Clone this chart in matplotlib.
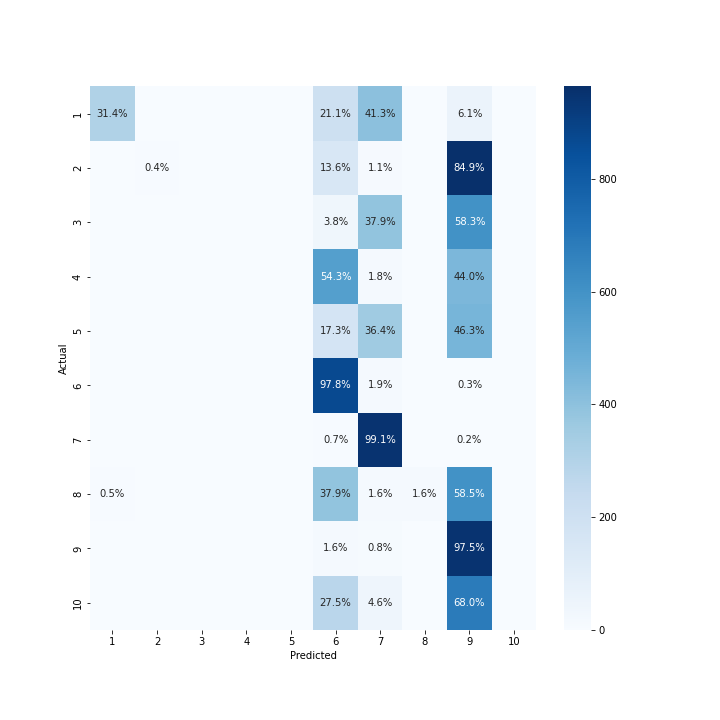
import numpy as np
import matplotlib
matplotlib.use("Agg")
import matplotlib.pyplot as plt
import seaborn as sns

labels = [str(i) for i in range(1, 11)]
# confusion matrix counts (rows = actual, cols = predicted)
row1 = [308, 0, 0, 0, 0, 207, 405, 0, 60, 0]
row2 = [0, 5, 0, 0, 0, 154, 12, 0, 964, 0]
row3 = [0, 0, 0, 0, 0, 39, 391, 0, 602, 0]
row4 = [0, 0, 0, 0, 0, 548, 18, 0, 444, 0]
row5 = [0, 0, 0, 0, 0, 170, 357, 0, 455, 0]
row6 = [0, 0, 0, 0, 0, 872, 17, 0, 3, 0]
row7 = [0, 0, 0, 0, 0, 7, 949, 0, 2, 0]
row8 = [5, 0, 0, 0, 0, 390, 16, 16, 601, 0]
row9 = [0, 0, 0, 0, 0, 16, 8, 0, 950, 0]
row10 = [0, 0, 0, 0, 0, 277, 46, 0, 686, 0]

cm = np.array([row1, row2, row3, row4, row5, row6, row7, row8, row9, row10])
pct = cm / cm.sum(axis=1, keepdims=True) * 100
annot = np.where(cm > 0, np.vectorize(lambda v: f"{v:.1f}%")(pct), "")

fig, ax = plt.subplots(figsize=(10, 10), dpi=72)
fig.subplots_adjust(left=0.125, right=0.9, top=0.88, bottom=0.125)
sns.heatmap(cm, annot=annot, fmt="", cmap="Blues", ax=ax,
            xticklabels=labels, yticklabels=labels)
ax.set_xlabel("Predicted")
ax.set_ylabel("Actual")
plt.setp(ax.get_yticklabels(), rotation=90, va="center")
plt.setp(ax.get_xticklabels(), rotation=0)
fig.savefig("out.png", dpi=72)
